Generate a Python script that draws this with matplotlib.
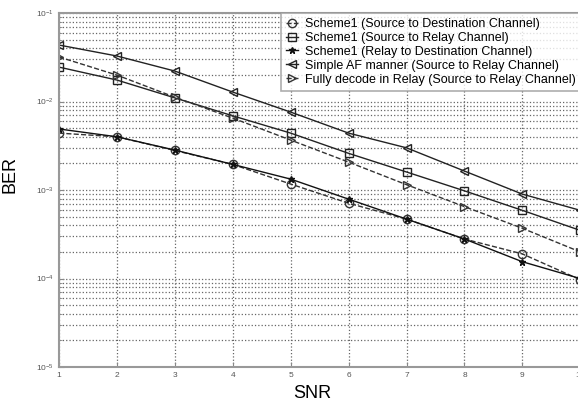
import matplotlib
matplotlib.use('Agg')
import matplotlib.pyplot as plt
import numpy as np

plt.rcParams['font.family'] = ['Liberation Sans', 'DejaVu Sans']

#SNR points
snr = [1, 2, 3, 4, 5, 6, 7, 8, 9, 10]

#BER curves
ber_s2d = [0.0044, 0.0040, 0.0028, 0.00195, 0.00117, 0.00071, 0.00047, 0.00028, 0.00019, 0.000097]
ber_s2r = [0.0245, 0.0175, 0.0110, 0.0069, 0.0044, 0.0026, 0.0016, 0.00098, 0.00059, 0.00035]
ber_r2d = [0.0049, 0.0040, 0.00283, 0.00195, 0.00133, 0.00079, 0.00047, 0.00028, 0.000155, 0.0001]
ber_af = [0.0435, 0.0327, 0.0221, 0.0128, 0.0076, 0.0044, 0.0030, 0.00164, 0.0009, 0.00059]
ber_fd = [0.0319, 0.0199, 0.0112, 0.0065, 0.00367, 0.00207, 0.00115, 0.00065, 0.00037, 0.0002]

labels = ['Scheme1 (Source to Destination Channel)',
          'Scheme1 (Source to Relay Channel)',
          'Scheme1 (Relay to Destination Channel)',
          'Simple AF manner (Source to Relay Channel)',
          'Fully decode in Relay (Source to Relay Channel)']

fig = plt.figure(figsize=(5.78, 4.07), dpi=100)
ax = fig.add_axes([0.102, 0.098, 0.902, 0.870])

ax.semilogy(snr, ber_s2d, '--', color='#333333', marker='o', mfc='none', ms=6, lw=1, label=labels[0])
ax.semilogy(snr, ber_s2r, '-', color='#222222', marker='s', mfc='none', ms=6, lw=1, label=labels[1])
ax.semilogy(snr, ber_r2d, '-', color='#111111', marker='*', ms=5, lw=1, label=labels[2])
ax.semilogy(snr, ber_af, '-', color='#222222', marker='<', mfc='none', ms=6, lw=1, label=labels[3])
ax.semilogy(snr, ber_fd, '--', color='#333333', marker='>', mfc='none', ms=6, lw=1, label=labels[4])

ax.set_xlim(1, 10)
ax.set_ylim(1e-5, 1e-1)
ax.set_xticks(snr)
ax.grid(True, which='major', linestyle=':', color='#666666', lw=0.9)
ax.grid(True, which='minor', axis='y', linestyle=':', color='#666666', lw=0.9)

ax.tick_params(which='both', direction='in', labelsize=6, labelcolor='#555555', color='#888888')
for s in ax.spines.values():
    s.set_color('#999999')
    s.set_linewidth(1.5)

ax.set_xlabel('SNR', fontsize=13)
ax.set_ylabel('BER', fontsize=13)
ax.xaxis.set_label_coords(0.486, -0.05)
ax.yaxis.set_label_coords(-0.078, 0.545)

leg = ax.legend(loc='upper right', fontsize=9, handlelength=1.0, handletextpad=0.5,
                borderaxespad=0, fancybox=False, labelspacing=0.15, borderpad=0.4)
leg.get_frame().set_edgecolor('#999999')
leg.get_frame().set_linewidth(1.2)

plt.savefig('out.png', dpi=100)
